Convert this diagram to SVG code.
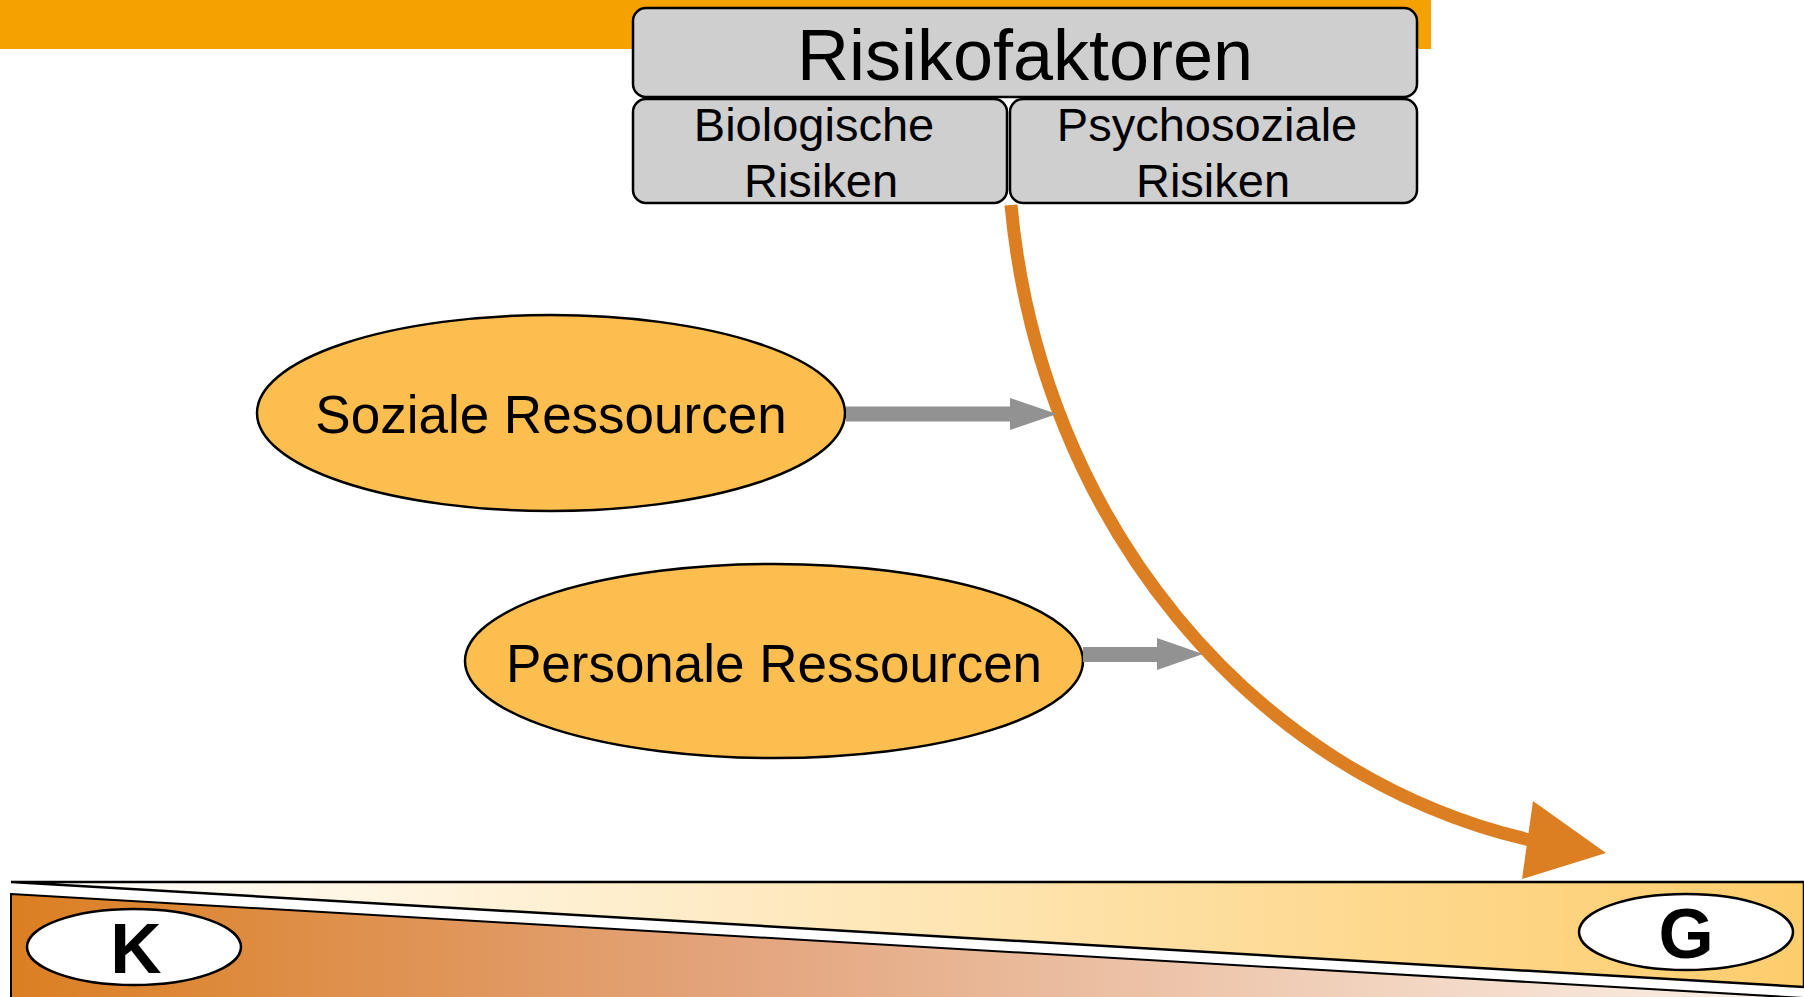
<svg xmlns="http://www.w3.org/2000/svg" width="1804" height="997" viewBox="0 0 1804 997">
<style>
  text { font-family: "Liberation Sans", Arial, sans-serif; fill: #000; }
  .box { fill: #CFCFCF; stroke: #000; stroke-width: 2.5; }
  .res { fill: #FDBE50; stroke: #000; stroke-width: 2.5; }
  .badge { fill: #FFFFFF; stroke: #000; stroke-width: 2.5; }
  .gray { fill: #929292; }
  .big { font-size: 72px; }
  .sub { font-size: 47px; }
  .res-t { font-size: 53px; }
  .letter { font-size: 71px; font-weight: bold; }
</style>
<defs>
  <linearGradient id="gUpper" x1="11" y1="0" x2="1804" y2="0" gradientUnits="userSpaceOnUse">
    <stop offset="0" stop-color="#FFFFFF"/>
    <stop offset="1" stop-color="#FDCD6C"/>
  </linearGradient>
  <linearGradient id="gLower" x1="11" y1="0" x2="1804" y2="0" gradientUnits="userSpaceOnUse">
    <stop offset="0" stop-color="#DB7F22"/>
    <stop offset="0.4" stop-color="#E3A47C"/>
    <stop offset="1" stop-color="#FBF2EA"/>
  </linearGradient>
</defs>

<rect id="topbar" x="0" y="0" width="1431" height="49" fill="#F5A100"/>

<g id="bottom-scale">
  <polygon points="11,894 1804,998 1804,1000 11,1000" fill="url(#gLower)" stroke="#000" stroke-width="2"/>
  <polygon points="11,882 1804,882 1804,987" fill="url(#gUpper)" stroke="#000" stroke-width="2.5" stroke-linejoin="miter"/>
</g>

<g id="node-K">
  <ellipse class="badge" cx="134" cy="947" rx="107" ry="38"/>
  <text class="letter" x="136" y="973" text-anchor="middle">K</text>
</g>
<g id="node-G">
  <ellipse class="badge" cx="1686" cy="932" rx="107" ry="38"/>
  <text class="letter" x="1686" y="958" text-anchor="middle">G</text>
</g>

<g id="node-risikofaktoren">
  <rect class="box" x="633" y="8" width="784" height="89" rx="13" ry="13"/>
  <text class="big" x="1025" y="80" text-anchor="middle">Risikofaktoren</text>
</g>
<g id="node-biologische">
  <rect class="box" x="633" y="99" width="374" height="104" rx="13" ry="13"/>
  <text class="sub" x="814" y="141" text-anchor="middle">Biologische</text>
  <text class="sub" x="821" y="197" text-anchor="middle">Risiken</text>
</g>
<g id="node-psychosoziale">
  <rect class="box" x="1010" y="99" width="407" height="104" rx="13" ry="13"/>
  <text class="sub" x="1207" y="141" text-anchor="middle">Psychosoziale</text>
  <text class="sub" x="1213" y="197" text-anchor="middle">Risiken</text>
</g>

<g id="node-soziale">
  <ellipse class="res" cx="551" cy="413" rx="294" ry="98"/>
  <text class="res-t" x="551" y="433" text-anchor="middle">Soziale Ressourcen</text>
</g>
<g id="node-personale">
  <ellipse class="res" cx="774" cy="661" rx="309" ry="97"/>
  <text class="res-t" x="774" y="682" text-anchor="middle">Personale Ressourcen</text>
</g>

<g id="connectors">
  <path d="M1011,205 C1040,520 1250,775 1530,840" fill="none" stroke="#DC7F22" stroke-width="13"/>
  <polygon points="1533,801 1606,853 1522,879" fill="#DC7F22"/>
  <rect class="gray" x="846" y="406.5" width="165" height="15"/>
  <polygon class="gray" points="1010,398 1057,414 1010,430"/>
  <rect class="gray" x="1083" y="647" width="75" height="15"/>
  <polygon class="gray" points="1157,638 1203,654 1157,670"/>
</g>
</svg>
